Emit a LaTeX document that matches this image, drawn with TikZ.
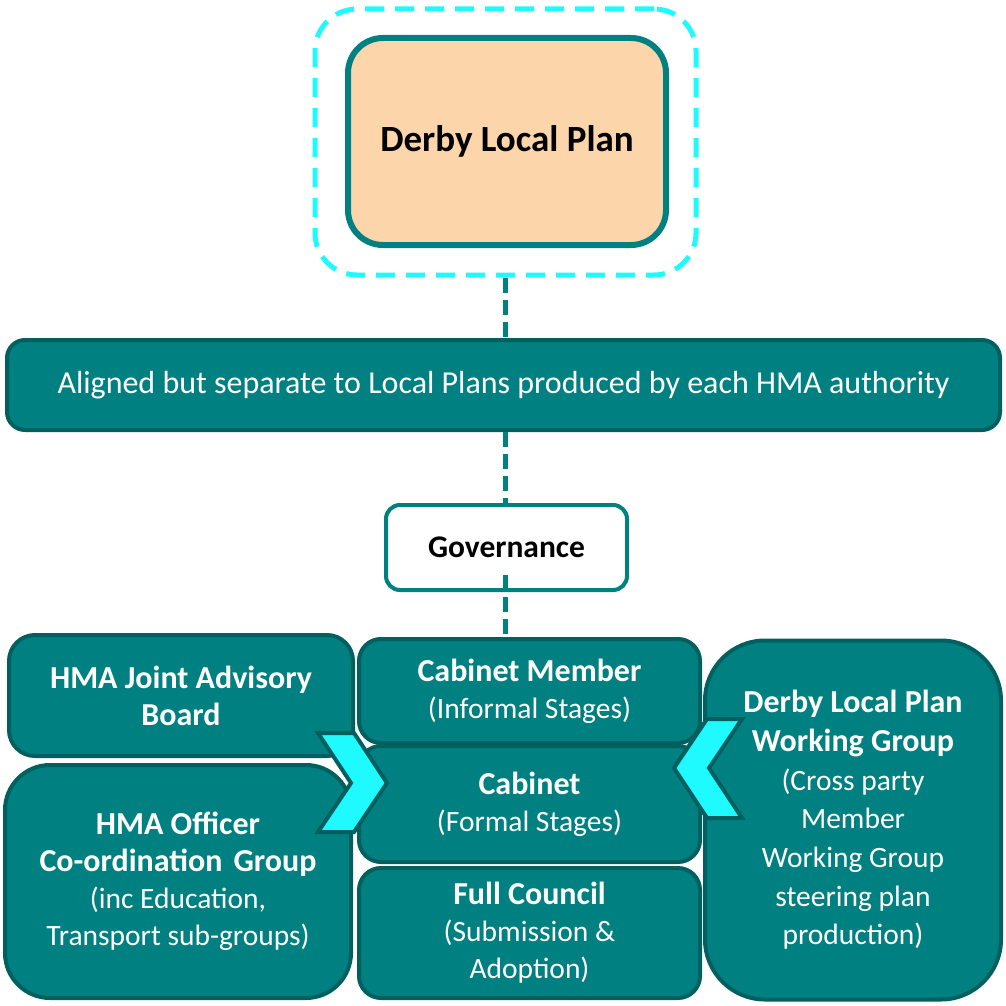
\documentclass[tikz,border=0pt]{standalone}
\usepackage{fontspec}
\setmainfont{Carlito}
\definecolor{teal1}{RGB}{0,128,128}
\definecolor{tealdk}{RGB}{0,95,95}
\definecolor{cyanb}{RGB}{30,250,255}
\definecolor{peach}{RGB}{252,214,170}
\newcommand{\bl}[1]{{\fontsize{32}{37}\selectfont\bfseries #1}}
\begin{document}
\begin{tikzpicture}[x=1pt,y=-1pt,
  tbox/.style={draw=tealdk, line width=4pt, fill=teal1, text=white, align=center,
    inner sep=0pt, rectangle, font=\fontsize{29.5}{37}\selectfont},
  conn/.style={draw=teal1, line width=5pt, dash pattern=on 15pt off 7pt},
  chev/.style={draw=tealdk, line width=4pt, fill=cyanb, line join=miter}]
\useasboundingbox (0,0) rectangle (1006,1006);
% top
\node[draw=cyanb, line width=5pt, dash pattern=on 19pt off 11pt, rounded corners=42pt,
  minimum width=381pt, minimum height=266pt, inner sep=0pt] (outer) at (505.5,142) {};
\node[draw=teal1, line width=6pt, fill=peach, rounded corners=35pt,
  minimum width=318pt, minimum height=207pt, inner sep=0pt,
  font=\fontsize{37}{42}\selectfont\bfseries] (dlp) at (507,141.5) {Derby Local Plan};
% banner
\node[tbox, rounded corners=18pt, minimum width=993pt, minimum height=90pt,
  font=\fontsize{32}{36}\selectfont] (banner) at (503.5,385)
  {Aligned but separate to Local Plans produced by each HMA authority};
% governance
\node[draw=teal1, line width=4pt, fill=white, rounded corners=14pt,
  minimum width=241pt, minimum height=85pt, inner sep=0pt,
  font=\fontsize{31.5}{36}\selectfont\bfseries] (gov) at (506.5,547.5) {Governance};
% bottom boxes
\node[tbox, rounded corners=26pt, minimum width=344pt, minimum height=121pt] (jab) at (181,695.5)
  {\bl{HMA Joint Advisory}\\\bl{Board}};
\node[tbox, rounded corners=45pt, minimum width=346pt, minimum height=233pt] (off) at (178,881.5)
  {\bl{HMA Officer}\\\bl{Co-ordination\hspace{0.12em} Group}\\(inc Education,\\Transport sub-groups)};
\node[tbox, rounded corners=60pt, minimum width=296pt, minimum height=359pt,
  font=\fontsize{29.5}{38.7}\selectfont] (wg) at (853,820)
  {\bl{Derby Local Plan}\\\bl{Working Group}\\(Cross party\\Member\\Working Group\\steering plan\\production)};
\node[tbox, rounded corners=22pt, minimum width=341pt, minimum height=104pt] (cm) at (529.5,691)
  {\bl{Cabinet Member}\\(Informal Stages)};
\node[tbox, rounded corners=22pt, minimum width=341pt, minimum height=116pt] (cab) at (529.5,804)
  {\bl{Cabinet}\\(Formal Stages)};
\node[tbox, rounded corners=22pt, minimum width=341pt, minimum height=130pt] (fc) at (529.5,933)
  {\bl{Full Council}\\(Submission \&\\Adoption)};
% chevrons
\draw[chev] (318,733) -- (354,733) -- (387,783) -- (354,832) -- (318,832) -- (351,783) -- cycle;
\draw[chev] (742,719) -- (707,719) -- (674,768) -- (707,818) -- (742,818) -- (709,768) -- cycle;
% connectors
\coordinate (c1) at (505,0);
\draw[conn] (c1 |- outer.south) -- (c1 |- banner.north);
\draw[conn] (c1 |- banner.south) -- (c1 |- gov.north);
\draw[conn] ([yshift=17pt]c1 |- gov.south) -- (c1 |- cm.north);
\end{tikzpicture}
\end{document}
